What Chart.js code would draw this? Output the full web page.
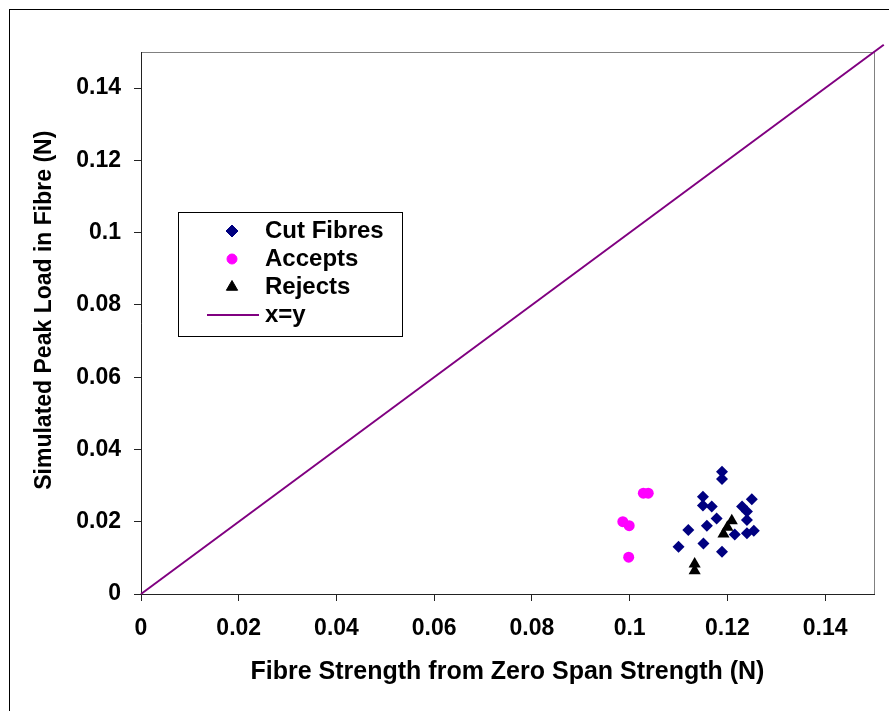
<!DOCTYPE html>
<html>
<head>
<meta charset="utf-8">
<script src="https://cdn.jsdelivr.net/npm/chart.js@4.4.0/dist/chart.umd.min.js"></script>
<style>
html, body { margin: 0; padding: 0; background: #fff; }
#wrap { position: relative; width: 889px; height: 711px; overflow: hidden; }
#frame { position: absolute; left: 9px; top: 9px; width: 900px; height: 720px; border-left: 1px solid #000; border-top: 1px solid #000; pointer-events: none; }
canvas { position: absolute; left: 0; top: 0; }
</style>
</head>
<body>
<div id="wrap">
    <canvas id="peakLoadChart" width="889" height="711"></canvas>
    <div id="frame"></div>
</div>
<script>
// Valeurs
var cutX = [0.1189, 0.1189, 0.1150, 0.1150, 0.1168, 0.1178, 0.1158, 0.1120, 0.1151, 0.1100, 0.1189, 0.1215, 0.1250, 0.1230, 0.1240, 0.1240, 0.1240, 0.1254];
var cutY = [0.0338, 0.0318, 0.0269, 0.0245, 0.0242, 0.0209, 0.0189, 0.0177, 0.0140, 0.0131, 0.0117, 0.0165, 0.0262, 0.0242, 0.0228, 0.0205, 0.0168, 0.0175];
var acceptX = [0.1028, 0.1038, 0.0986, 0.0999, 0.0998];
var acceptY = [0.0279, 0.0279, 0.0200, 0.0189, 0.0102];
var rejectX = [0.1209, 0.1200, 0.1192, 0.1133, 0.1133];
var rejectY = [0.0203, 0.0185, 0.0166, 0.0083, 0.0064];
var lineX = [0, 0.152];
var lineY = [0, 0.152];

var xTicks = [0, 0.02, 0.04, 0.06, 0.08, 0.1, 0.12, 0.14];
var xTickLabels = ['0', '0.02', '0.04', '0.06', '0.08', '0.1', '0.12', '0.14'];
var yTicks = [0, 0.02, 0.04, 0.06, 0.08, 0.1, 0.12, 0.14];
var yTickLabels = ['0', '0.02', '0.04', '0.06', '0.08', '0.1', '0.12', '0.14'];

var seriesNames = ['Cut Fibres', 'Accepts', 'Rejects', 'x=y'];
var seriesColors = ['#000080', '#ff00ff', '#000000', '#800080'];

var FONT = '"Liberation Sans", Arial, Helvetica, sans-serif';

function toPoints(xs, ys) {
    return xs.map(function(x, i) { return { x: x, y: ys[i] }; });
}

// Petits symboles pour la légende
function makeMarker(style, color, radius, w, h) {
    var c = document.createElement('canvas');
    c.width = w;
    c.height = h;
    var g = c.getContext('2d');
    g.fillStyle = color;
    g.strokeStyle = color;
    if (style === 'line') {
        g.fillRect(0, Math.floor(h / 2) - 1, w, 2);
    } else {
        Chart.helpers.drawPoint(g, { pointStyle: style, radius: radius, rotation: 0, borderWidth: 1 }, w / 2, h / 2);
    }
    return c;
}

var legendMarkers = [
    makeMarker('rectRot', seriesColors[0], 6, 16, 16),
    makeMarker('circle', seriesColors[1], 5, 14, 14),
    makeMarker('triangle', seriesColors[2], 6.5, 16, 16),
    makeMarker('line', seriesColors[3], 0, 54, 4)
];

var framePlugin = {
    id: 'framePlugin',
    afterLayout: function(chart) {
        // Légende placée dans la zone du graphique
        var lg = chart.legend;
        lg.left = 207;
        lg.top = 215;
        lg.width = 190;
        lg.height = 130;
        lg.right = lg.left + lg.width;
        lg.bottom = lg.top + lg.height;
    },
    beforeDraw: function(chart) {
        var ctx = chart.ctx;
        var a = chart.chartArea;
        ctx.save();
        ctx.strokeStyle = '#808080';
        ctx.lineWidth = 1;
        ctx.strokeRect(a.left + 0.5, a.top + 0.5, a.right - a.left, a.bottom - a.top);
        ctx.strokeStyle = '#000';
        ctx.strokeRect(178.5, 212.5, 224, 124);
        ctx.restore();
    }
};

var ctx = document.getElementById('peakLoadChart').getContext('2d');
var chartInstance = new Chart(ctx, {
    type: 'scatter',
    data: {
        datasets: [{
            label: seriesNames[0],
            data: toPoints(cutX, cutY),
            pointStyle: 'rectRot',
            pointRadius: 6,
            backgroundColor: seriesColors[0],
            borderColor: seriesColors[0],
            borderWidth: 0,
            order: 1
        }, {
            label: seriesNames[1],
            data: toPoints(acceptX, acceptY),
            pointStyle: 'circle',
            pointRadius: 5.5,
            backgroundColor: seriesColors[1],
            borderColor: seriesColors[1],
            borderWidth: 0,
            order: 2
        }, {
            label: seriesNames[2],
            data: toPoints(rejectX, rejectY),
            pointStyle: 'triangle',
            pointRadius: 7,
            backgroundColor: seriesColors[2],
            borderColor: seriesColors[2],
            borderWidth: 0,
            order: 0
        }, {
            label: seriesNames[3],
            data: toPoints(lineX, lineY),
            showLine: true,
            pointRadius: 0,
            borderColor: seriesColors[3],
            borderWidth: 2,
            clip: false,
            order: 3
        }]
    },
    options: {
        responsive: false,
        animation: false,
        events: [],
        layout: { padding: { left: 0, top: 52, right: 15, bottom: 0 } },
        plugins: {
            tooltip: { enabled: false },
            legend: {
                position: 'chartArea',
                align: 'start',
                labels: {
                    usePointStyle: true,
                    pointStyleWidth: 42,
                    boxHeight: 24,
                    padding: 4,
                    color: '#000',
                    font: { family: FONT, size: 24, weight: 'bold' },
                    generateLabels: function(chart) {
                        return seriesNames.map(function(name, i) {
                            return {
                                text: name,
                                pointStyle: legendMarkers[i],
                                fillStyle: seriesColors[i],
                                strokeStyle: seriesColors[i],
                                fontColor: '#000',
                                lineWidth: 0,
                                hidden: false,
                                datasetIndex: i
                            };
                        });
                    }
                }
            }
        },
        scales: {
            x: {
                type: 'linear',
                min: 0,
                max: 0.15,
                afterFit: function(scale) { scale.height = 117; },
                afterBuildTicks: function(scale) {
                    scale.ticks = xTicks.map(function(v) { return { value: v }; });
                },
                ticks: {
                    autoSkip: false,
                    maxRotation: 0,
                    padding: 14,
                    color: '#000',
                    font: { family: FONT, size: 23, weight: 'bold' },
                    callback: function(value, index) { return xTickLabels[index]; }
                },
                grid: { drawOnChartArea: false, tickLength: 7, color: '#222' },
                border: { color: '#222', width: 1 },
                title: {
                    display: true,
                    text: 'Fibre Strength from Zero Span Strength (N)',
                    color: '#000',
                    font: { family: FONT, size: 25, weight: 'bold' },
                    padding: { top: 0, bottom: 24 }
                }
            },
            y: {
                type: 'linear',
                min: 0,
                max: 0.15,
                afterFit: function(scale) { scale.width = 141; },
                afterBuildTicks: function(scale) {
                    scale.ticks = yTicks.map(function(v) { return { value: v }; });
                },
                ticks: {
                    autoSkip: false,
                    padding: 13,
                    color: '#000',
                    font: { family: FONT, size: 23, weight: 'bold' },
                    callback: function(value, index) { return yTickLabels[index]; }
                },
                grid: { drawOnChartArea: false, tickLength: 7, color: '#222' },
                border: { color: '#222', width: 1 },
                title: {
                    display: true,
                    text: '\u00a0\u00a0\u00a0\u00a0Simulated Peak Load in Fibre (N)',
                    color: '#000',
                    font: { family: FONT, size: 23, weight: 'bold' },
                    padding: { top: 31, bottom: 0 }
                }
            }
        }
    },
    plugins: [framePlugin]
});
</script>
</body>
</html>
